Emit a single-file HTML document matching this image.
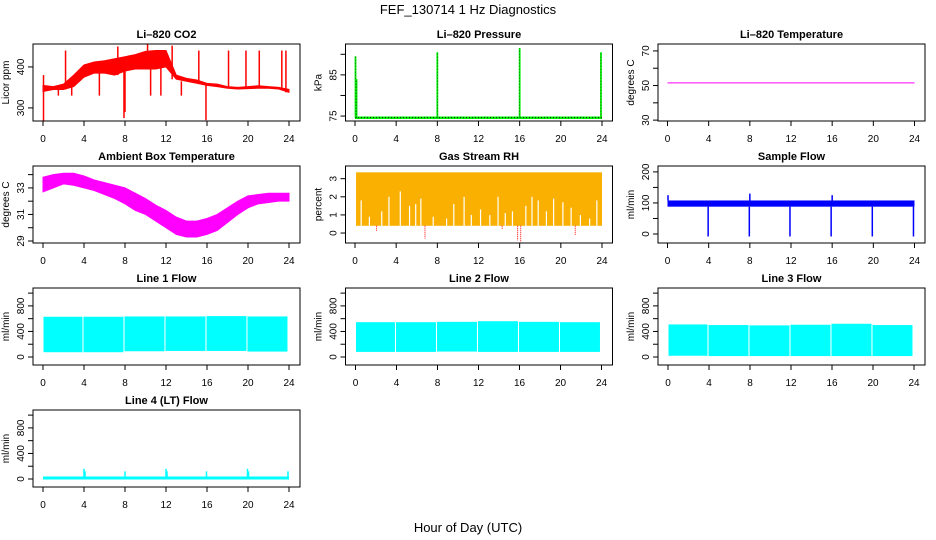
<!DOCTYPE html>
<html><head><meta charset="utf-8">
<style>
html,body{margin:0;padding:0;background:#fff;}
svg{display:block;font-family:"Liberation Sans",Arial,sans-serif;}
</style></head>
<body>
<svg id="chart" width="936" height="540" viewBox="0 0 936 540" xmlns="http://www.w3.org/2000/svg">
<text x="468" y="14" font-size="13" text-anchor="middle">FEF_130714  1 Hz Diagnostics</text>
<text x="468" y="532" font-size="13" text-anchor="middle">Hour of Day (UTC)</text>
</svg>
<script>
// ---- data ----
const xTicks = [0,4,8,12,16,20,24];
const hours = [0,1,2,3,4,5,6,7,8,9,10,11,12,13,14,15,16,17,18,19,20,21,22,23,24];
const co2Lo = [340,345,345,352,375,385,385,380,390,395,395,395,400,370,365,360,355,352,348,346,347,348,348,346,338];
const co2Hi = [355,352,358,380,405,412,415,420,425,430,438,440,440,380,372,368,360,358,352,350,352,354,352,350,345];
const co2SpikeX = [0.05,0.05,2.2,7.9,8.0,15.2,15.9,18.1,19.8,21.1,23.3,23.7,1.5,2.8,5.5,10.5,11.5,13.5,7.3,10.2,12.6];
const co2SpikeY = [268,380,440,275,290,440,270,440,440,440,440,440,330,330,330,330,330,330,450,455,452];
const co2Ticks = [300,400];
const presBase = 74.6;
const presSpikeX = [0.05,0.15,8.0,16.0,23.9];
const presSpikeY = [89.5,84,90.5,91.5,90.5];
const presTicks = [75,80,85,90];
const presLabels = [75,85];
const tempValue = [51.5,51.5];
const tempX = [0,24];
const tempTicks = [30,40,50,60,70];
const tempLabels = [30,50,70];
const ambLo = [32.7,33.0,33.3,33.2,33.0,32.8,32.5,32.2,31.8,31.3,31.0,30.5,30.0,29.5,29.3,29.3,29.5,29.8,30.4,31.0,31.5,31.8,31.9,32.0,32.0];
const ambHi = [33.8,34.0,34.1,34.1,33.9,33.6,33.4,33.2,33.0,32.6,32.2,31.7,31.3,30.8,30.5,30.5,30.7,31.0,31.5,32.0,32.4,32.5,32.6,32.6,32.6];
const ambTicks = [29,30,31,32,33,34];
const ambLabels = [29,31,33];
const rhLo = 0.4, rhHi = 3.35;
const rhGapX = [0.6,1.4,2.6,3.3,4.4,5.3,5.9,6.4,7.6,8.9,9.6,10.6,11.3,12.2,13.1,13.9,14.6,15.3,16.6,17.2,17.8,18.6,19.3,20.2,21.0,21.9,22.8,23.5];
const rhGapY = [1.8,0.9,1.2,2.0,2.3,1.5,1.6,1.9,0.9,0.8,1.6,2.0,1.0,1.3,1.0,2.0,1.1,1.2,1.5,2.0,1.8,1.2,1.9,1.7,1.4,1.0,0.8,1.8];
const rhDipX = [6.8,15.8,16.1,21.4,2.1,14.3];
const rhDipY = [-0.3,-0.4,-0.5,-0.15,0.1,0.2];
const rhTicks = [0,1,2,3];
const sfLo = 88, sfHi = 108;
const sfDipX = [3.95,7.95,11.9,15.9,19.9,23.9];
const sfDipY = [-8,-8,-8,-8,-8,-8];
const sfUpX = [0.05,8.0,16.0];
const sfUpY = [125,130,125];
const sfTicks = [0,50,100,150,200];
const sfLabels = [0,100,200];
const blockStart = [0.05,3.95,7.95,11.95,15.95,19.95];
const blockEnd = [3.85,7.85,11.85,15.85,19.85,23.85];
const l1Lo = [75,75,90,95,95,85], l1Hi = [630,630,635,635,640,635];
const l2Lo = [80,80,85,80,80,80], l2Hi = [545,545,550,560,550,545];
const l3Lo = [20,15,15,15,15,15], l3Hi = [510,500,495,505,520,500];
const l4Base = 15;
const l4SpikeX = [4.0,4.1,8.0,12.0,12.1,15.95,19.95,20.05,23.9];
const l4SpikeY = [160,120,120,160,120,120,160,120,120];
const flowTicks = [0,200,400,600,800,1000];
const flowLabels = [0,400,800];

// ---- drawing helpers ----
const svg = document.getElementById('chart');
const NS = 'http://www.w3.org/2000/svg';
function el(tag, attrs, parent){ const e=document.createElementNS(NS,tag); for(const k in attrs) e.setAttribute(k,attrs[k]); (parent||svg).appendChild(e); return e; }

function makePanel(name, title, ylab, col, row, ymin, ymax, x0px, x24px, yTicks, yLabels){
  const g = el('g',{});
  
  
  const left = 33 + col*312.5, right = left+267, top = 44 + row*122, bottom = top+77;
  const X = h => x0px + col*312.5 + (x24px - x0px)*h/24;
  const Y = v => bottom - (v - ymin)/(ymax - ymin)*(bottom - top);
  const t = el('text',{x:(left+right)/2,y:top-6,'font-size':11,'font-weight':'bold','text-anchor':'middle'},g);
  t.textContent = title;
  
  
  const yl = el('text',{x:0,y:0,'font-size':10,'text-anchor':'middle',transform:`translate(${left-24},${(top+bottom)/2}) rotate(-90)`},g);
  yl.textContent = ylab;
  
  
  const plot = el('g',{},g);
  
  
  const xa = el('g',{},g);
  
  
  el('line',{x1:X(0),x2:X(24),y1:bottom,y2:bottom,stroke:'#000'},xa);
  xTicks.forEach(h=>{
    el('line',{x1:X(h),x2:X(h),y1:bottom,y2:bottom+5,stroke:'#000'},xa);
    const tl = el('text',{x:X(h),y:bottom+21,'font-size':10,'text-anchor':'middle'},xa);
    tl.textContent = h;
  });
  const ya = el('g',{},g);
  
  
  yTicks.forEach(v=>{
    el('line',{x1:left-5,x2:left,y1:Y(v),y2:Y(v),stroke:'#000'},ya);
  });
  yLabels.forEach(v=>{
    const tl = el('text',{x:0,y:0,'font-size':10,'text-anchor':'middle',transform:`translate(${left-9},${Y(v)}) rotate(-90)`},ya);
    tl.textContent = v;
  });
  el('rect',{x:left,y:top,width:right-left,height:bottom-top,fill:'none',stroke:'#000'},g);
  return {X,Y,plot};
}
function band(p, xs, lo, hi, fill){
  let d = 'M'+xs.map((x,i)=>p.X(x)+','+p.Y(hi[i])).join('L');
  for(let i=xs.length-1;i>=0;i--) d += 'L'+p.X(xs[i])+','+p.Y(lo[i]);
  return el('path',{d:d+'Z',fill:fill,stroke:fill,'stroke-width':1},p.plot);
}
function vline(p, x, y1, y2, color, w){ return el('line',{x1:p.X(x),x2:p.X(x),y1:p.Y(y1),y2:p.Y(y2),stroke:color,'stroke-width':w||1.5},p.plot); }

// CO2
let p = makePanel('co2','Li\u2013820 CO2','Licor ppm',0,0,268,456,43,289,co2Ticks,co2Ticks);
band(p,hours,co2Lo,co2Hi,'#ff0000');
co2SpikeX.forEach((x,i)=>{ const b=co2Lo[Math.round(x)]; vline(p,x,b,co2SpikeY[i],'#ff0000',1.5); });
// Pressure
p = makePanel('pressure','Li\u2013820 Pressure','kPa',1,0,73.8,92.5,42.5,289.5,presTicks,presLabels);
el('line',{x1:p.X(0),x2:p.X(24),y1:p.Y(presBase),y2:p.Y(presBase),stroke:'#00ee00','stroke-width':2.5},p.plot);
el('line',{x1:p.X(0),x2:p.X(24),y1:p.Y(presBase),y2:p.Y(presBase),stroke:'#000','stroke-width':0.8,'stroke-dasharray':'1,2'},p.plot);
presSpikeX.forEach((x,i)=>{ vline(p,x,presBase,presSpikeY[i],'#00ee00',1.8); vline(p,x,presBase,presSpikeY[i],'#000',0.5).setAttribute('stroke-dasharray','1,2'); });
// Temperature
p = makePanel('li820-temp','Li\u2013820 Temperature','degrees C',2,0,29.5,74,42.5,289.5,tempTicks,tempLabels);
el('line',{x1:p.X(tempX[0]),x2:p.X(tempX[1]),y1:p.Y(tempValue[0]),y2:p.Y(tempValue[1]),stroke:'#ff00ff','stroke-width':1},p.plot);
// Ambient
p = makePanel('ambient','Ambient Box Temperature','degrees C',0,1,28.85,34.65,43,289,ambTicks,ambLabels);
band(p,hours,ambLo,ambHi,'#ff00ff');
// RH
p = makePanel('rh','Gas Stream RH','percent',1,1,-0.55,3.7,42.5,289.5,rhTicks,rhTicks);
el('rect',{x:p.X(0.1),y:p.Y(rhHi),width:p.X(24)-p.X(0.1),height:p.Y(rhLo)-p.Y(rhHi),fill:'#f9b000'},p.plot);
rhGapX.forEach((x,i)=>{ vline(p,x,rhLo-0.05,rhGapY[i],'#ffffff',1.2); });
rhDipX.forEach((x,i)=>{ vline(p,x,rhLo,rhDipY[i],'#ff0000',1).setAttribute('stroke-dasharray','1,1'); });
// Sample flow
p = makePanel('sample-flow','Sample Flow','ml/min',2,1,-29,219,42.5,289.5,sfTicks,sfLabels);
el('rect',{x:p.X(0),y:p.Y(sfHi),width:p.X(24)-p.X(0),height:p.Y(sfLo)-p.Y(sfHi),fill:'#0000ff'},p.plot);
sfDipX.forEach((x,i)=>{ vline(p,x,sfLo,sfDipY[i],'#0000ff',1.5); });
sfUpX.forEach((x,i)=>{ vline(p,x,sfHi,sfUpY[i],'#0000ff',1.5); });
// Line flows
function flowPanel(name,title,col,row,lo,hi){
  const q = makePanel(name,title,'ml/min',col,row,-125,1080,43,289,flowTicks,flowLabels);
  blockStart.forEach((s,i)=>{
    el('rect',{x:q.X(s),y:q.Y(hi[i]),width:q.X(blockEnd[i])-q.X(s),height:q.Y(lo[i])-q.Y(hi[i]),fill:'#00ffff'},q.plot);
  });
  return q;
}
flowPanel('line1-flow','Line 1 Flow',0,2,l1Lo,l1Hi);
flowPanel('line2-flow','Line 2 Flow',1,2,l2Lo,l2Hi);
flowPanel('line3-flow','Line 3 Flow',2,2,l3Lo,l3Hi);
p = makePanel('line4-flow','Line 4 (LT) Flow','ml/min',0,3,-125,1080,43,289,flowTicks,flowLabels);
el('line',{x1:p.X(0),x2:p.X(24),y1:p.Y(l4Base),y2:p.Y(l4Base),stroke:'#00ffff','stroke-width':3},p.plot);
l4SpikeX.forEach((x,i)=>{ vline(p,x,l4Base,l4SpikeY[i],'#00ffff',1.5); });
</script>
</body></html>
